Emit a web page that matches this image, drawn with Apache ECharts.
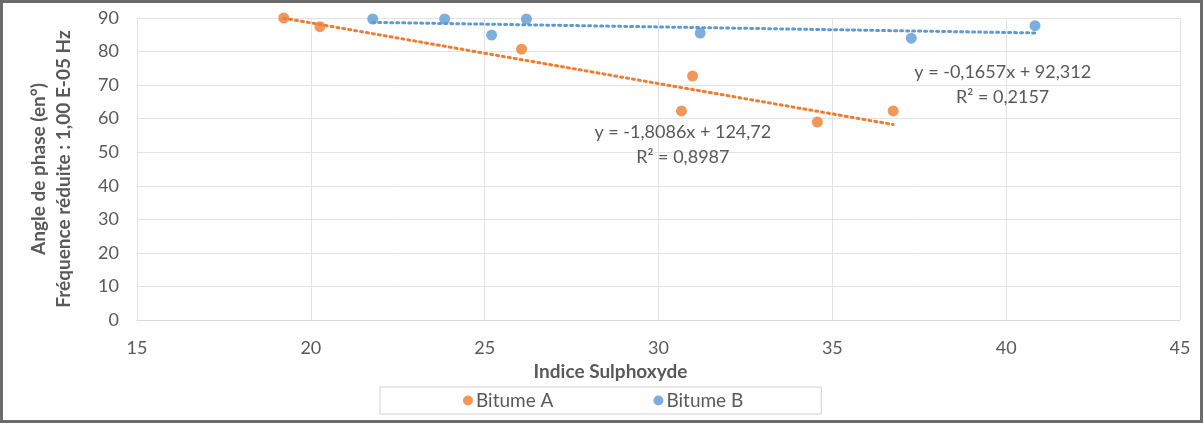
<!DOCTYPE html>
<html>
<head>
<meta charset="utf-8">
<script src="https://cdn.jsdelivr.net/npm/echarts@6/dist/echarts.min.js"></script>
<style>html,body{margin:0;padding:0;background:#fff}#c{width:1204px;height:424px}</style>
</head>
<body>
<div id="c"></div>
<script>
// Data
const seriesNames = ['Bitume A', 'Bitume B'];
const bitumeA_x = [19.22, 20.26, 26.06, 30.98, 30.66, 34.57, 36.75];
const bitumeA_y = [90.0, 87.4, 80.7, 72.7, 62.3, 59.0, 62.3];
const bitumeB_x = [21.78, 23.85, 25.2, 26.2, 31.2, 37.27, 40.83];
const bitumeB_y = [89.7, 89.7, 84.9, 89.7, 85.5, 84.0, 87.7];
// Trend line coefficients as printed on the chart [slope, intercept]
const trendA = [-1.8086, 124.72];
const trendB = [-0.1657, 92.312];
const trendLabelA = ['y = -1,8086x + 124,72', 'R² = 0,8987'];
const trendLabelB = ['y = -0,1657x + 92,312', 'R² = 0,2157'];
const xTicks = [15, 20, 25, 30, 35, 40, 45];
const yTicks = [0, 10, 20, 30, 40, 50, 60, 70, 80, 90];
const xTitle = 'Indice Sulphoxyde';
const yTitle = ['Angle de phase (en°)', 'Fréquence réduite : 1,00 E-05 Hz'];

const colA = '#ED7D31', colB = '#5B9BD5';
const font = 'Lato, "Open Sans", sans-serif';
const txt = '#595959';

function pairs(xs, ys) { return xs.map((x, i) => [x, ys[i]]); }
function trend(xs, c) {
  const lo = Math.min(...xs), hi = Math.max(...xs);
  return [[lo, c[0] * lo + c[1]], [hi, c[0] * hi + c[1]]];
}

const chart = echarts.init(document.getElementById('c'), null, {renderer: 'canvas'});
chart.setOption({
  animation: false,
  backgroundColor: '#fff',
  textStyle: {fontFamily: font},
  grid: {left: 137, right: 24, top: 18, bottom: 104},
  graphic: [
    {type: 'rect', shape: {x: 1.5, y: 1.5, width: 1200, height: 420},
     style: {fill: 'none', stroke: '#6b6b6b', lineWidth: 3}, z: 100}
  ],
  legend: {
    top: 387, left: 380,
    data: seriesNames,
    icon: 'circle', itemWidth: 10, itemHeight: 10, itemGap: 100,
    padding: [4, 78, 4, 83],
    borderColor: '#D0D0D0', borderWidth: 1,
    textStyle: {color: txt, fontSize: 19, fontFamily: font, padding: [0, 0, 0, -2]}
  },
  xAxis: {
    type: 'value', min: xTicks[0], max: xTicks[xTicks.length - 1], interval: 5,
    name: xTitle, nameLocation: 'middle', nameGap: 42,
    nameTextStyle: {color: txt, fontSize: 19, fontWeight: 'bold', fontFamily: font, padding: [0, 96, 0, 0]},
    axisLine: {show: true, lineStyle: {color: '#D9D9D9'}},
    axisTick: {show: false},
    axisLabel: {color: txt, fontSize: 18, margin: 19, fontFamily: font},
    splitLine: {show: true, lineStyle: {color: '#E3E3E3'}}
  },
  yAxis: {
    type: 'value', min: yTicks[0], max: yTicks[yTicks.length - 1], interval: 10,
    name: yTitle.join('\n'), nameLocation: 'middle', nameGap: 61,
    nameTextStyle: {color: txt, fontSize: 19, fontWeight: 'bold', lineHeight: 25, fontFamily: font},
    axisLine: {show: false},
    axisTick: {show: false},
    axisLabel: {color: txt, fontSize: 18, margin: 18, fontFamily: font},
    splitLine: {show: true, lineStyle: {color: '#E3E3E3'}}
  },
  series: [
    {name: seriesNames[0], type: 'scatter', data: pairs(bitumeA_x, bitumeA_y),
     symbolSize: 11, itemStyle: {color: colA}, z: 5},
    {name: seriesNames[1], type: 'scatter', data: pairs(bitumeB_x, bitumeB_y),
     symbolSize: 11, itemStyle: {color: colB}, z: 5},
    {name: 'trendA', type: 'line', data: trend(bitumeA_x, trendA), symbol: 'none',
     lineStyle: {color: colA, width: 3, type: [2, 4], cap: 'round'}, z: 3, silent: true,
     markPoint: {symbol: 'rect', symbolSize: 0, silent: true,
       data: [{coord: [30.7, 52.3], label: {show: true, formatter: trendLabelA.join('\n'),
         color: txt, fontSize: 18, lineHeight: 25, align: 'center', fontFamily: font}}]}},
    {name: 'trendB', type: 'line', data: trend(bitumeB_x, trendB), symbol: 'none',
     lineStyle: {color: colB, width: 3, type: [2, 4], cap: 'round'}, z: 3, silent: true,
     markPoint: {symbol: 'rect', symbolSize: 0, silent: true,
       data: [{coord: [39.9, 70.0], label: {show: true, formatter: trendLabelB.join('\n'),
         color: txt, fontSize: 18, lineHeight: 25, align: 'center', fontFamily: font}}]}}
  ]
});
</script>
</body>
</html>
